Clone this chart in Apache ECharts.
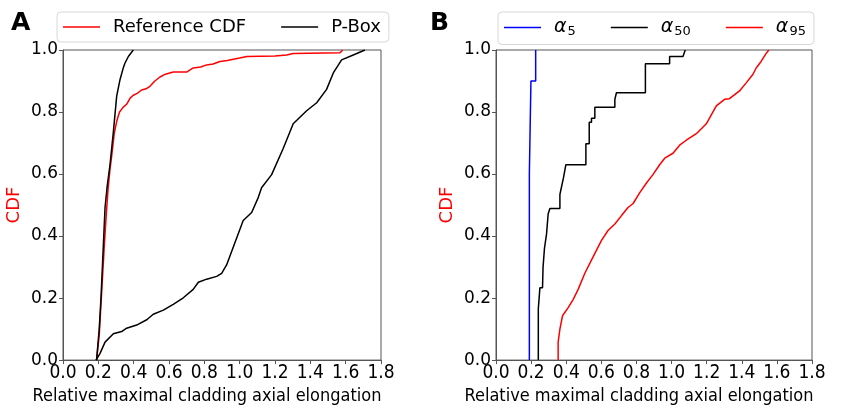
<!DOCTYPE html>
<html><head><meta charset="utf-8">
<script src="https://cdn.jsdelivr.net/npm/echarts@6/dist/echarts.min.js"></script>
<style>html,body{margin:0;padding:0;background:#fff}#c{width:846px;height:410px}</style>
</head><body><div id="c"></div>
<script>
// ---- data ----
const xTicks = [0, 1.8, 0.2];   // min, max, step
const yTicks = [0, 1, 0.2];
const xLabel = 'Relative maximal cladding axial elongation';
const yLabel = 'CDF';

// Panel A
const referenceCDF = [[0.19,0],[0.205,0.08],[0.215,0.18],[0.225,0.28],[0.235,0.38],[0.245,0.47],[0.255,0.55],[0.265,0.61],[0.276,0.66],[0.29,0.73],[0.304,0.77],[0.32,0.80],[0.34,0.815],[0.36,0.825],[0.38,0.845],[0.398,0.854],[0.42,0.86],[0.445,0.871],[0.47,0.875],[0.492,0.883],[0.52,0.90],[0.549,0.913],[0.58,0.922],[0.624,0.929],[0.70,0.929],[0.737,0.942],[0.78,0.945],[0.813,0.952],[0.85,0.955],[0.888,0.963],[0.93,0.966],[0.964,0.970],[1.0,0.974],[1.04,0.979],[1.20,0.981],[1.266,0.984],[1.303,0.989],[1.568,0.991],[1.583,1.0]];
const pboxUpper = [[0.19,0],[0.205,0.1],[0.215,0.2],[0.228,0.365],[0.238,0.492],[0.25,0.56],[0.266,0.63],[0.285,0.735],[0.304,0.852],[0.323,0.905],[0.34,0.94],[0.351,0.958],[0.37,0.979],[0.398,1.0]];
const pboxLower = [[0.187,0],[0.209,0.021],[0.238,0.058],[0.285,0.085],[0.332,0.092],[0.360,0.103],[0.417,0.113],[0.474,0.130],[0.511,0.148],[0.568,0.161],[0.624,0.180],[0.681,0.201],[0.737,0.228],[0.766,0.251],[0.813,0.261],[0.870,0.270],[0.898,0.280],[0.926,0.307],[0.964,0.365],[1.020,0.450],[1.068,0.476],[1.105,0.524],[1.124,0.556],[1.181,0.598],[1.247,0.683],[1.303,0.762],[1.379,0.804],[1.436,0.830],[1.492,0.873],[1.530,0.926],[1.577,0.968],[1.643,0.984],[1.709,1.0]];

// Panel B
const alpha5 = [[0.19,0],[0.19,0.6],[0.193,0.6],[0.193,0.7],[0.199,0.7],[0.199,0.9],[0.226,0.9],[0.226,1.0]];
const alpha50 = [[0.241,0],[0.241,0.165],[0.25,0.165],[0.25,0.233],[0.265,0.233],[0.268,0.30],[0.276,0.36],[0.288,0.407],[0.297,0.471],[0.307,0.471],[0.307,0.489],[0.364,0.489],[0.364,0.534],[0.373,0.534],[0.385,0.59],[0.398,0.63],[0.512,0.63],[0.512,0.698],[0.531,0.698],[0.531,0.767],[0.544,0.767],[0.544,0.78],[0.563,0.78],[0.563,0.815],[0.677,0.815],[0.677,0.841],[0.686,0.841],[0.686,0.862],[0.851,0.862],[0.851,0.956],[0.989,0.956],[0.989,0.979],[1.065,0.979],[1.078,1.0]];
const alpha95 = [[0.354,0],[0.354,0.058],[0.364,0.1],[0.379,0.143],[0.411,0.169],[0.440,0.196],[0.468,0.228],[0.506,0.280],[0.553,0.333],[0.601,0.386],[0.638,0.418],[0.677,0.439],[0.715,0.466],[0.752,0.492],[0.781,0.505],[0.819,0.540],[0.857,0.571],[0.894,0.598],[0.932,0.630],[0.961,0.651],[1.008,0.667],[1.046,0.693],[1.084,0.709],[1.141,0.730],[1.198,0.762],[1.255,0.820],[1.302,0.841],[1.330,0.843],[1.387,0.868],[1.425,0.894],[1.463,0.921],[1.482,0.942],[1.510,0.963],[1.539,0.989],[1.554,1.0]];

// ---- chart ----
const chart = echarts.init(document.getElementById('c'), null, {renderer:'canvas'});
const AX = '#555';
function xAxisCfg(gi){
  return {type:'value', gridIndex:gi, min:xTicks[0], max:xTicks[1], interval:xTicks[2],
    axisLine:{show:true, onZero:false, lineStyle:{color:AX, width:1}},
    axisTick:{show:true, length:4, lineStyle:{color:AX}},
    splitLine:{show:false},
    axisLabel:{color:'#000', fontFamily:'DejaVu Sans Condensed', fontSize:19, margin:3, formatter:v=>v.toFixed(1)},
    name:xLabel, nameLocation:'middle', nameGap:17,
    nameTextStyle:{color:'#000', fontFamily:'DejaVu Sans Condensed', fontSize:18, padding:[0,30,0,0]}};
}
function yAxisCfg(gi){
  return {type:'value', gridIndex:gi, min:yTicks[0], max:yTicks[1], interval:yTicks[2],
    axisLine:{show:true, onZero:false, lineStyle:{color:AX, width:1}},
    axisTick:{show:true, length:4, lineStyle:{color:AX}},
    splitLine:{show:false},
    axisLabel:{color:'#000', fontFamily:'DejaVu Sans', fontSize:17, margin:5, formatter:v=>v.toFixed(1)},
    name:yLabel, nameLocation:'middle', nameGap:40,
    nameTextStyle:{color:'#ff0000', fontFamily:'DejaVu Sans', fontSize:18}};
}
function line(name, data, color, xi){
  return {type:'line', name, data, xAxisIndex:xi, yAxisIndex:xi, showSymbol:false, symbol:'none',
    lineStyle:{color, width:1.5}, itemStyle:{color}, animation:false, z:3};
}
const legendBase = {orient:'horizontal', top:12, icon:'rect', itemWidth:37, itemHeight:1.5,
  borderColor:'#d8d8d8', borderWidth:1, borderRadius:4, padding:[6,8,6,6], itemGap:35,
  textStyle:{color:'#000', fontFamily:'DejaVu Sans', fontSize:18, padding:[0,0,0,8]}};
const subs = {'α5':'5','α50':'50','α95':'95'};
chart.setOption({
  animation:false,
  backgroundColor:'#fff',
  title:[
    {text:'A', left:6, top:6, textStyle:{fontFamily:'DejaVu Sans', fontWeight:'bold', fontSize:25, color:'#000'}},
    {text:'B', left:425, top:6, textStyle:{fontFamily:'DejaVu Sans', fontWeight:'bold', fontSize:25, color:'#000'}}
  ],
  grid:[
    {left:63, top:50, width:318, height:315, show:true, borderColor:AX, borderWidth:1, backgroundColor:'transparent'},
    {left:496, top:50, width:316, height:315, show:true, borderColor:AX, borderWidth:1, backgroundColor:'transparent'}
  ],
  xAxis:[xAxisCfg(0), xAxisCfg(1)],
  yAxis:[yAxisCfg(0), yAxisCfg(1)],
  legend:[
    Object.assign({}, legendBase, {left:57, data:['Reference CDF','P-Box']}),
    Object.assign({}, legendBase, {left:498, data:['α5','α50','α95'],
      formatter:n=>'{a|α}{s|'+subs[n]+'}',
      textStyle:Object.assign({}, legendBase.textStyle, {rich:{
        a:{fontFamily:'DejaVu Sans', fontStyle:'italic', fontSize:19, color:'#000'},
        s:{fontFamily:'DejaVu Sans', fontSize:13, color:'#000', padding:[9,0,0,1]}}})})
  ],
  series:[
    line('Reference CDF', referenceCDF, '#ff0000', 0),
    line('P-Box', pboxUpper, '#000000', 0),
    line('P-Box', pboxLower, '#000000', 0),
    line('α5', alpha5, '#0000ff', 1),
    line('α50', alpha50, '#000000', 1),
    line('α95', alpha95, '#ff0000', 1)
  ]
});
</script></body></html>
